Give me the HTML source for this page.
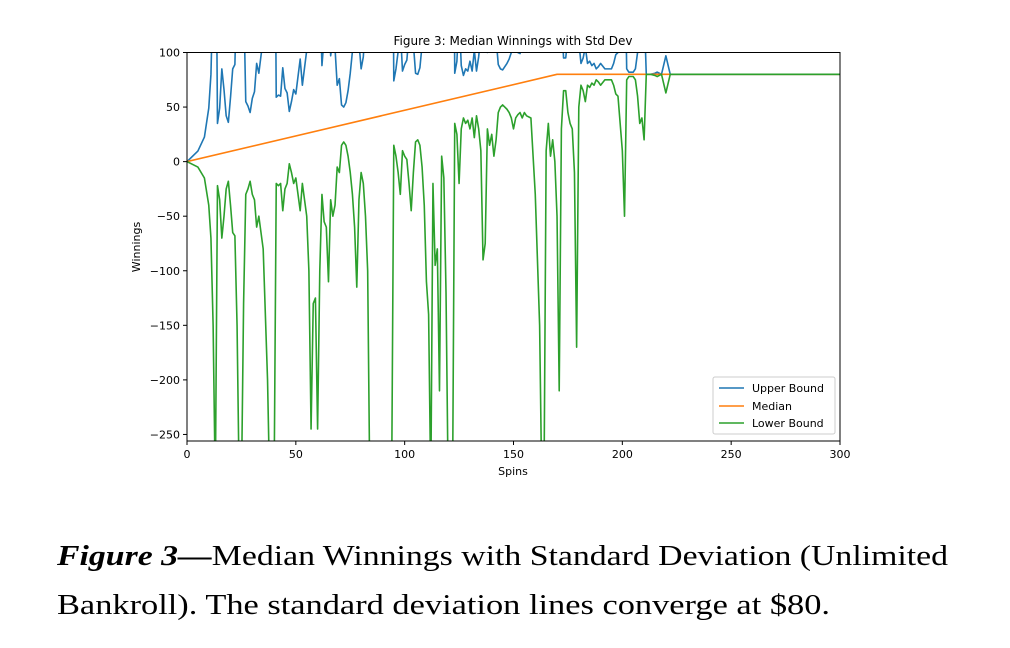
<!DOCTYPE html>
<html><head><meta charset="utf-8"><style>
html,body{margin:0;padding:0;background:#fff;width:1010px;height:648px;overflow:hidden}
svg{display:block}
</style></head><body>
<svg id="chart" width="1010" height="648" xmlns="http://www.w3.org/2000/svg">
<defs><clipPath id="plotclip"><rect x="187" y="52.5" width="653" height="388.5"/></clipPath></defs>
<text x="513" y="45" text-anchor="middle" font-family="DejaVu Sans, sans-serif" font-size="12">Figure 3: Median Winnings with Std Dev</text>
<g id="series" clip-path="url(#plotclip)"></g>
<rect x="187" y="52.5" width="653" height="388.5" fill="none" stroke="#000" stroke-width="1"/>
<g id="xticks"></g>
<g id="yticks"></g>
<text x="513" y="475" text-anchor="middle" font-family="DejaVu Sans, sans-serif" font-size="11">Spins</text>
<text transform="translate(140,247) rotate(-90)" text-anchor="middle" font-family="DejaVu Sans, sans-serif" font-size="11">Winnings</text>
<g>
<rect x="713" y="377" width="122" height="57" rx="2" fill="#fff" fill-opacity="0.8" stroke="#ccc"/>
<line x1="719" y1="388" x2="744" y2="388" stroke="#1f77b4" stroke-width="1.5"/>
<text x="752" y="392" font-family="DejaVu Sans, sans-serif" font-size="11">Upper Bound</text>
<line x1="719" y1="406" x2="744" y2="406" stroke="#ff7f0e" stroke-width="1.5"/>
<text x="752" y="410" font-family="DejaVu Sans, sans-serif" font-size="11">Median</text>
<line x1="719" y1="423" x2="744" y2="423" stroke="#2ca02c" stroke-width="1.5"/>
<text x="752" y="427" font-family="DejaVu Sans, sans-serif" font-size="11">Lower Bound</text>
</g>
<text x="57" y="565" font-family="'Liberation Serif', serif" font-size="28" textLength="891" lengthAdjust="spacingAndGlyphs"><tspan font-weight="bold" font-style="italic">Figure 3—</tspan>Median Winnings with Standard Deviation (Unlimited</text>
<text x="57" y="614" font-family="'Liberation Serif', serif" font-size="28" textLength="773" lengthAdjust="spacingAndGlyphs">Bankroll). The standard deviation lines converge at $80.</text>
</svg>
<script>
const spins=[0,5,8,10,11,12,13,14,15,16,17,18,19,20,21,22,23,24,25,26,27,28,29,30,31,32,33,35,37,38,40,41,42,43,44,45,46,47,48,49,50,51,52,53,55,56,57,58,59,60,61,62,63,64,65,66,67,68,69,70,71,72,73,74,75,76,77,78,79,80,81,82,83,84,94,95,96,97,98,99,100,101,102,103,104,105,106,107,108,109,110,111,112,113,114,115,116,117,118,119,120,122,123,124,125,126,127,128,129,130,131,132,133,134,135,136,137,138,139,140,141,142,143,144,145,146,147,148,149,150,151,152,153,154,155,156,158,160,162,163,164,165,166,167,168,169,170,171,172,173,174,175,176,177,178,179,180,181,182,183,184,185,186,187,188,189,190,192,195,196,197,198,200,201,202,203,205,206,207,208,209,210,211,212,213,215,216,217,218,220,222,300];
const lowerVals=[0,-5,-15,-40,-70,-150,-300,-22,-35,-70,-50,-25,-18,-40,-65,-68,-150,-300,-300,-130,-30,-25,-18,-30,-35,-60,-50,-80,-200,-300,-300,-20,-22,-20,-45,-25,-20,-2,-10,-20,-15,-30,-45,-20,-50,-100,-245,-130,-125,-245,-100,-30,-55,-60,-110,-35,-50,-40,-5,-10,15,18,15,5,-10,-30,-60,-115,-35,-10,-20,-50,-100,-300,-300,15,5,-10,-30,10,5,2,-20,-45,-10,18,20,15,-5,-40,-110,-140,-300,-20,-95,-80,-210,5,-15,-120,-300,-300,35,25,-20,30,40,35,38,30,40,22,42,30,10,-90,-75,30,15,25,5,20,45,50,52,50,48,45,40,30,40,43,45,40,45,42,40,-30,-150,-300,-300,10,35,5,20,0,-50,-210,30,65,65,45,35,30,-10,-170,50,70,65,55,70,68,72,70,75,73,70,75,75,70,62,60,10,-50,75,78,78,75,60,35,40,20,80,80,80,79,78,79,80,63,80,80];
const upperVals=[0,9.7,22.5,49,80,161,312,35,49,85,66,42,36,59,85,89,172,323,324,154,55,51,45,58,64,90,81,113,235,336,338,59,61,60,86,67,63,46,55,66,62,78,94,70,102,153,299,185,180,301,157,88,114,120,171,97,113,104,70,76,52,50,54,65,81,101,132,188,109,85,96,127,178,379,388,74,85,101,122,83,89,93,116,142,108,81,80,86,107,142,213,244,405,126,202,188,319,105,126,232,413,415,81,92,138,88,79,85,83,92,83,102,83,96,117,218,204,100,116,107,128,113,89,85,84,87,90,94,100,111,102,100,99,105,101,105,109,180,302,453,454,145,121,152,138,159,210,370,130,95,95,115,125,130,170,330,110,90,95,105,90,92,88,90,85,87,90,85,85,90,98,100,150,210,85,82,82,85,100,125,120,140,80,80,80,81,82,81,80,97,80,80];
const medianSpins=[0,170,300];
const medianVals=[0,80,80];
const xTicks=[0,50,100,150,200,250,300];
const yTicks=[100,50,0,-50,-100,-150,-200,-250];

const X0=187,X1=840,XMIN=0,XMAX=300;
const YT=52.5,YB=441,YMAX=100,YMIN=-256;
function xs(v){return X0+(v-XMIN)/(XMAX-XMIN)*(X1-X0);}
function ys(v){return YT+(YMAX-v)/(YMAX-YMIN)*(YB-YT);}
const NS='http://www.w3.org/2000/svg';
const g=document.getElementById('series');
function line(xv,yv,color,name){
  const p=document.createElementNS(NS,'path');
  let d='';
  for(let i=0;i<xv.length;i++){d+=(i?'L':'M')+xs(xv[i]).toFixed(2)+','+ys(yv[i]).toFixed(2);}
  p.setAttribute('d',d);p.setAttribute('fill','none');p.setAttribute('stroke',color);
  p.setAttribute('stroke-width','1.6');p.setAttribute('stroke-linejoin','round');
  
  
  g.appendChild(p);
}
line(spins,upperVals,'#1f77b4','upper-bound-line');
line(medianSpins,medianVals,'#ff7f0e','median-line');
line(spins,lowerVals,'#2ca02c','lower-bound-line');

const xg=document.getElementById('xticks');
xTicks.forEach(t=>{
  const l=document.createElementNS(NS,'line');
  l.setAttribute('x1',xs(t));l.setAttribute('x2',xs(t));l.setAttribute('y1',YB);l.setAttribute('y2',YB+4);l.setAttribute('stroke','#000');
  
  
  xg.appendChild(l);
  const tx=document.createElementNS(NS,'text');
  tx.setAttribute('x',xs(t));tx.setAttribute('y',YB+17);tx.setAttribute('text-anchor','middle');
  tx.setAttribute('font-family','DejaVu Sans, sans-serif');tx.setAttribute('font-size','11');
  tx.textContent=t;
  
  
  xg.appendChild(tx);
});
const yg=document.getElementById('yticks');
yTicks.forEach(t=>{
  const l=document.createElementNS(NS,'line');
  l.setAttribute('x1',X0-4);l.setAttribute('x2',X0);l.setAttribute('y1',ys(t));l.setAttribute('y2',ys(t));l.setAttribute('stroke','#000');
  
  
  yg.appendChild(l);
  const tx=document.createElementNS(NS,'text');
  tx.setAttribute('x',X0-7);tx.setAttribute('y',ys(t)+4);tx.setAttribute('text-anchor','end');
  tx.setAttribute('font-family','DejaVu Sans, sans-serif');tx.setAttribute('font-size','11');
  tx.textContent=(t<0?'\u2212'+(-t):String(t));
  
  
  yg.appendChild(tx);
});
</script>
</body></html>
